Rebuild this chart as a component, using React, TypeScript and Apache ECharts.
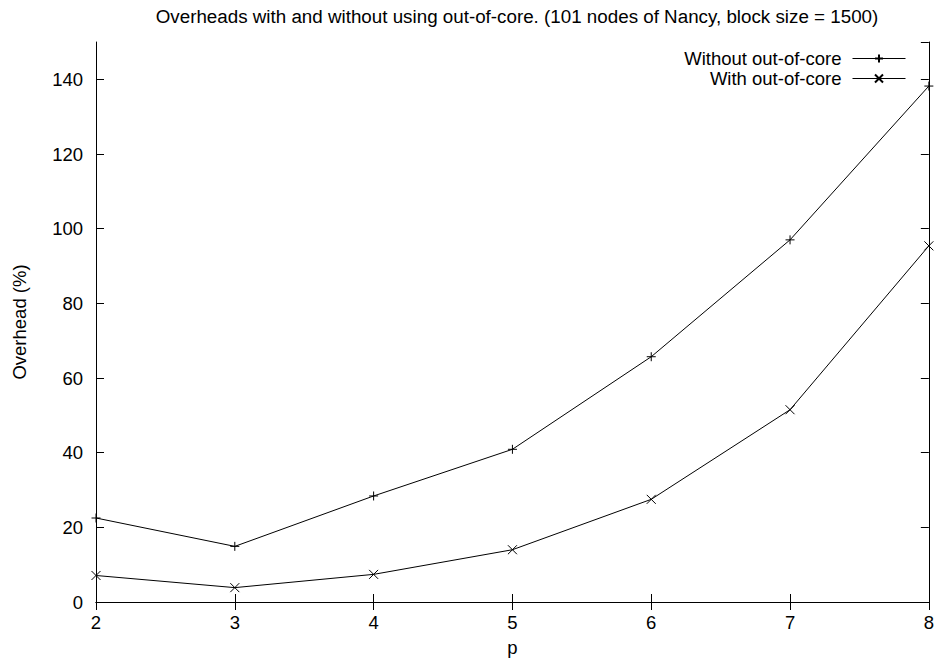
import React, { useEffect, useRef } from "react";
import * as echarts from "echarts";

const pValues = [2, 3, 4, 5, 6, 7, 8];
const withoutOOC = [22.5, 14.9, 28.4, 40.9, 65.7, 97.0, 138.2];
const withOOC = [7.1, 3.85, 7.4, 14.0, 27.5, 51.5, 95.4];
const seriesNames = ["Without out-of-core", "With out-of-core"];
const titleText =
  "Overheads with and without using out-of-core. (101 nodes of Nancy, block size = 1500)";

const FONT = "Liberation Sans, Arial, Helvetica, sans-serif";
const FS = 18.5;
const PLUS = "path://M0,5L10,5M5,0L5,10";
const CROSS = "path://M0,0L10,10M10,0L0,10";

export default function App() {
  const ref = useRef<HTMLDivElement>(null);
  useEffect(() => {
    if (!ref.current) return;
    const chart = echarts.init(ref.current, null, { renderer: "svg" });
    const axisCommon = {
      axisLine: { show: true, lineStyle: { color: "#000", width: 1 } },
      axisTick: { show: true, inside: true, length: 8, lineStyle: { color: "#000", width: 1 } },
      splitLine: { show: false },
    };
    const toPairs = (arr: number[]) => pValues.map((p, i) => [p, arr[i]]);
    chart.setOption({
      animation: false,
      backgroundColor: "#fff",
      title: {
        text: titleText,
        left: 512,
        textAlign: "center",
        top: 2,
        textStyle: { fontFamily: FONT, fontSize: 18.8, fontWeight: "normal", color: "#000" },
      },
      grid: { left: 96, right: 8, top: 42, bottom: 60 },
      legend: {
        orient: "vertical",
        right: 31,
        top: 49,
        padding: 0,
        align: "right",
        itemWidth: 53,
        itemHeight: 10,
        itemGap: 1,
        lineStyle: { width: 1 },
        textStyle: {
          fontFamily: FONT,
          fontSize: FS,
          color: "#000",
          lineHeight: 16,
          padding: [0, 6, 0, 0],
        },
        data: seriesNames,
      },
      xAxis: [
        {
          type: "value",
          min: 2,
          max: 8,
          interval: 1,
          name: "p",
          nameLocation: "middle",
          nameGap: 36,
          nameTextStyle: { fontFamily: FONT, fontSize: FS, color: "#000" },
          axisLabel: { fontFamily: FONT, fontSize: FS, color: "#000", margin: 11 },
          ...axisCommon,
        },
        {
          type: "value",
          position: "top",
          min: 2,
          max: 8,
          interval: 1,
          axisLabel: { show: false },
          ...axisCommon,
        },
      ],
      yAxis: [
        {
          type: "value",
          min: 0,
          max: 150,
          interval: 20,
          name: "Overhead (%)",
          nameLocation: "middle",
          nameGap: 67,
          nameTextStyle: { fontFamily: FONT, fontSize: FS, color: "#000" },
          axisLabel: { fontFamily: FONT, fontSize: FS, color: "#000", margin: 13, showMaxLabel: false },
          ...axisCommon,
        },
        {
          type: "value",
          position: "right",
          min: 0,
          max: 150,
          interval: 20,
          axisLabel: { show: false },
          ...axisCommon,
        },
      ],
      series: [
        {
          name: seriesNames[0],
          type: "line",
          data: toPairs(withoutOOC),
          symbol: PLUS,
          symbolSize: 9,
          clip: false,
          lineStyle: { color: "#000", width: 1 },
          itemStyle: { color: "#000", borderColor: "#000", borderWidth: 1 },
        },
        {
          name: seriesNames[1],
          type: "line",
          data: toPairs(withOOC),
          symbol: CROSS,
          symbolSize: 9,
          clip: false,
          lineStyle: { color: "#000", width: 1 },
          itemStyle: { color: "#000", borderColor: "#000", borderWidth: 1 },
        },
      ],
    });
    return () => chart.dispose();
  }, []);
  return (
    <div
      ref={ref}
      style={{ position: "fixed", left: 0, top: 0, width: 937, height: 662 }}
    />
  );
}
